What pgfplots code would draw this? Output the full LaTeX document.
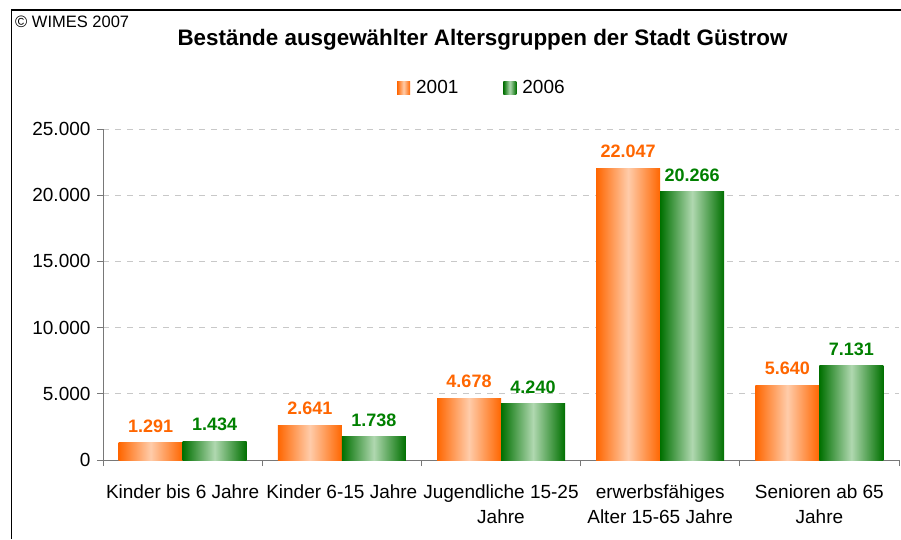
\documentclass[border=0pt]{standalone}
\usepackage{pgfplots}
\pgfplotsset{compat=1.18}
\usepackage{fontspec}
\setmainfont{Liberation Sans}
\definecolor{oDark}{RGB}{255,102,0}
\definecolor{oLight}{RGB}{255,204,170}
\definecolor{gDark}{RGB}{0,112,0}
\definecolor{gLight}{RGB}{176,216,176}
\definecolor{axgray}{RGB}{120,120,120}
\definecolor{gridgray}{RGB}{200,200,200}
\definecolor{lblorange}{RGB}{255,102,0}
\definecolor{lblgreen}{RGB}{0,128,0}
\pgfplotsset{
  sqlegend/.style={legend image code/.code={\path[##1] (0pt,-6.5pt) rectangle (13pt,6.5pt);}},
  obar/.style={draw=none, left color=oDark, right color=oDark, middle color=oLight,
    bar shift=-32pt, every node near coord/.append style={text=lblorange}},
  gbar/.style={draw=none, left color=gDark, right color=gDark, middle color=gLight,
    bar shift=32pt, every node near coord/.append style={text=lblgreen}},
}
\begin{document}
\begin{tikzpicture}[x=1pt,y=1pt]
\useasboundingbox (0,0) rectangle (901,539);
\fill[white] (0,0) rectangle (901,539);
\draw[line width=1.3pt] (11.5,0) -- (11.5,529) -- (901,529);
\node[anchor=base west, font=\fontsize{16.5}{18}\selectfont, inner sep=0] at (15,511) {© WIMES 2007};
\node[font=\fontsize{22.4}{26}\selectfont\bfseries, inner sep=0] at (482.5,499) {Bestände ausgewählter Altersgruppen der Stadt Güstrow};
\begin{axis}[
  at={(103pt,79pt)}, anchor=south west,
  scale only axis, width=796pt, height=331pt,
  xmin=-0.5, xmax=4.5, ymin=0, ymax=25000,
  ybar=0pt, bar width=64pt,
  axis x line*=bottom, axis y line*=left,
  axis line style={axgray, line width=1pt, -},
  xtick={0,...,4},
  xticklabels={Kinder bis 6 Jahre, Kinder 6-15 Jahre, {Jugendliche 15-25\\Jahre}, {erwerbsfähiges\\Alter 15-65 Jahre}, {Senioren ab 65\\Jahre}},
  major x tick style={draw=none},
  minor xtick={-0.5,0.5,1.5,2.5,3.5,4.5},
  minor x tick style={axgray, line width=1pt},
  major y tick style={axgray, line width=1pt},
  tick align=outside, major tick length=6pt, minor tick length=6pt,
  ytick={0,5000,10000,15000,20000,25000},
  scaled y ticks=false,
  ymajorgrids, major y grid style={gridgray, line width=1pt, dash pattern=on 6pt off 6pt},
  tick label style={font=\fontsize{19}{25}\selectfont},
  xticklabel style={align=center, yshift=-15pt},
  yticklabel style={xshift=-3pt},
  nodes near coords,
  nodes near coords style={font=\fontsize{18}{20}\selectfont\bfseries, inner sep=2pt, yshift=8pt},
  legend columns=2,
  legend style={draw=none, fill=none, at={(axis description cs:0.476,1.124)}, anchor=center,
    font=\fontsize{19}{22}\selectfont,
    /tikz/every odd column/.append style={column sep=4pt},
    /tikz/every even column/.append style={column sep=43pt}},
  /pgf/number format/1000 sep={.},
  /pgf/number format/fixed,
  /pgf/number format/precision=0,
  /pgf/number format/assume math mode=true,
]
\addlegendimage{obar, sqlegend}
\addlegendimage{gbar, sqlegend}
% 2001
\addplot[obar, forget plot] coordinates {(0,1291)};
\addplot[obar, forget plot] coordinates {(1,2641)};
\addplot[obar, forget plot] coordinates {(2,4678)};
\addplot[obar, forget plot] coordinates {(3,22047)};
\addplot[obar, forget plot] coordinates {(4,5640)};
% 2006
\addplot[gbar, forget plot] coordinates {(0,1434)};
\addplot[gbar, forget plot] coordinates {(1,1738)};
\addplot[gbar, forget plot] coordinates {(2,4240)};
\addplot[gbar, forget plot] coordinates {(3,20266)};
\addplot[gbar, forget plot] coordinates {(4,7131)};
\legend{2001,2006}
\end{axis}
\end{tikzpicture}
\end{document}
